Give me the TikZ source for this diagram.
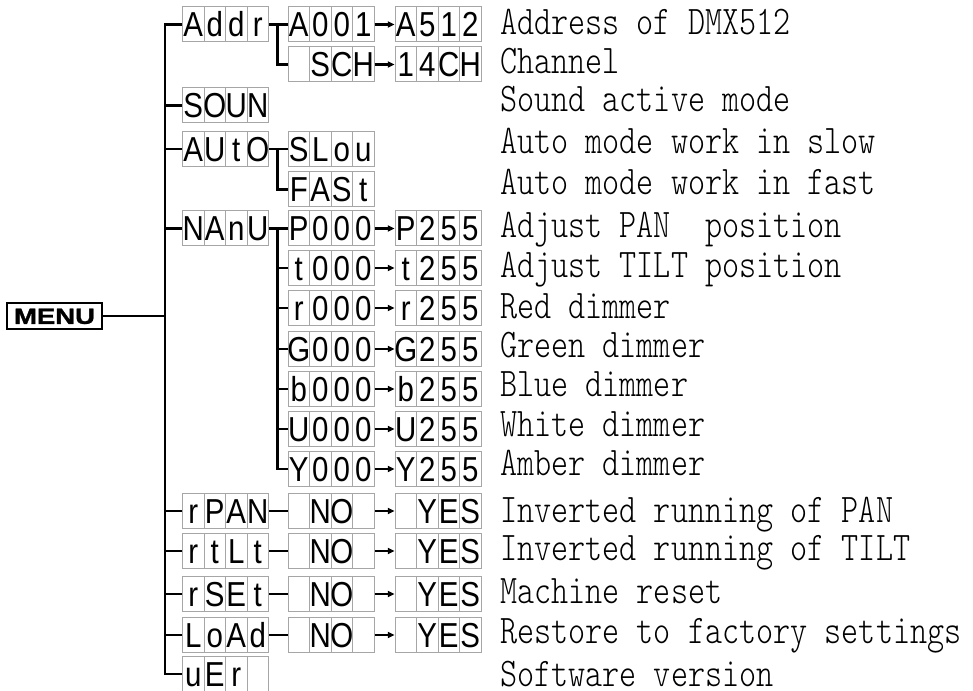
\documentclass[tikz,border=0pt]{standalone}
\usepackage{fontspec}
\setmainfont{Liberation Serif}
\newfontfamily\descfont[Extension=.otf, FakeStretch=0.8]{lmmonolt10-regular}
\newfontfamily\segfont[FakeStretch=0.85]{Liberation Sans}
\newfontfamily\menufont[FakeStretch=1.25, BoldFeatures={FakeBold=1.5}]{Liberation Sans}
\usetikzlibrary{calc,arrows.meta,positioning}
\newlength\cellw
\setlength\cellw{16.125pt}
\newcommand\seg[4]{\makebox[\cellw]{#1}\makebox[\cellw]{#2}\makebox[\cellw]{#3}\makebox[\cellw]{#4}}
\tikzset{
  disp/.style={draw=black!35, line width=0.75pt, inner sep=0pt, minimum height=26.25pt,
    text height=18.6pt, text depth=0pt, font=\segfont\fontsize{26}{26}\selectfont,
    path picture={\foreach \k in {1,2,3}{\draw[black!35, line width=0.75pt]
      ($(path picture bounding box.south west)!\k/4!(path picture bounding box.south east)$) --
      ($(path picture bounding box.north west)!\k/4!(path picture bounding box.north east)$);}}},
  menubox/.style={draw, line width=1.6pt, inner sep=0pt, minimum width=71.25pt, minimum height=19.5pt,
    text height=11.8pt, text depth=0pt, font=\menufont\bfseries\fontsize{16.5}{16.5}\selectfont},
  tree/.style={line width=2.1pt, black},
  link/.style={line width=1.6pt, -{Triangle[length=5pt,width=4.5pt]}},
  desc/.style={anchor=base west, inner sep=0pt, font=\descfont\fontsize{30.5}{34}\selectfont}
}
\begin{document}
\begin{tikzpicture}[x=0.75pt,y=-0.75pt]
  \useasboundingbox (0,0) rectangle (973,691);
  \node[menubox] (menu) at (54.5,316) {MENU};
  \coordinate (spine) at (165,0);
  % first level
  \node[disp] (addr) at (225.5,24.5) {\seg Addr};
  \node[disp] (soun) at (225.5,105.5) {\seg SOUN};
  \node[disp] (auto) at (225.5,149) {\seg AUtO};
  \node[disp] (manu) at (225.5,228.5) {\seg NAnU};
  \node[disp] (rpan) at (225.5,511) {\seg rPAN};
  \node[disp] (rtlt) at (225.5,551) {\seg rtLt};
  \node[disp] (rset) at (225.5,594) {\seg rSEt};
  \node[disp] (load) at (225.5,635) {\seg LoAd};
  \node[disp] (ver) at (225.5,674) {\seg uEr{}};
  % second level
  \node[disp] (a001) at (331,24.5) {\seg A001};
  \node[disp] (sch) at (331,64.5) {\seg{}SCH};
  \node[disp] (slow) at (331,149) {\seg SLou};
  \node[disp] (fast) at (331,189.5) {\seg FASt};
  \node[disp] (pan) at (331,228.5) {\seg P000};
  \node[disp] (tilt) at (331,268) {\seg t000};
  \node[disp] (red) at (331,308) {\seg r000};
  \node[disp] (green) at (331,349) {\seg G000};
  \node[disp] (blue) at (331,389) {\seg b000};
  \node[disp] (white) at (331,429) {\seg U000};
  \node[disp] (amber) at (331,469) {\seg Y000};
  \node[disp] (no1) at (331,511) {\seg{}NO{}};
  \node[disp] (no2) at (331,551) {\seg{}NO{}};
  \node[disp] (no3) at (331,594) {\seg{}NO{}};
  \node[disp] (no4) at (331,635) {\seg{}NO{}};
  % third level
  \node[disp, right=15pt of a001] (a512) {\seg A512};
  \node[disp, right=15pt of sch] (ch14) {\seg 14CH};
  \node[disp, right=15pt of pan] (pan2) {\seg P255};
  \node[disp, right=15pt of tilt] (tilt2) {\seg t255};
  \node[disp, right=15pt of red] (red2) {\seg r255};
  \node[disp, right=15pt of green] (green2) {\seg G255};
  \node[disp, right=15pt of blue] (blue2) {\seg b255};
  \node[disp, right=15pt of white] (white2) {\seg U255};
  \node[disp, right=15pt of amber] (amber2) {\seg Y255};
  \node[disp, right=15pt of no1] (yes1) {\seg{}YES};
  \node[disp, right=15pt of no2] (yes2) {\seg{}YES};
  \node[disp, right=15pt of no3] (yes3) {\seg{}YES};
  \node[disp, right=15pt of no4] (yes4) {\seg{}YES};
  % tree lines
  \draw[tree] (menu) -- (menu -| spine);
  \draw[tree] (addr.west) -- ++(-17,0) |- (ver.west);
  \foreach \n in {soun,auto,manu,rpan,rtlt,rset,load} \draw[tree] (\n.west) -- ++(-17,0);
  \draw[tree] (addr) -- (a001);
  \draw[tree] ($(a001.west)+(-10,0)$) |- (sch.west);
  \draw[tree] (auto) -- (slow);
  \draw[tree] ($(slow.west)+(-10,0)$) |- (fast.west);
  \draw[tree] (manu) -- (pan);
  \draw[tree] ($(pan.west)+(-10,0)$) |- (amber.west);
  \foreach \n in {tilt,red,green,blue,white} \draw[tree] (\n.west) -- ++(-10,0);
  \foreach \a/\b in {rpan/no1,rtlt/no2,rset/no3,load/no4} \draw[tree] (\a) -- (\b);
  \foreach \a/\b in {a001/a512,sch/ch14,pan/pan2,tilt/tilt2,red/red2,green/green2,blue/blue2,white/white2,amber/amber2,no1/yes1,no2/yes2,no3/yes3,no4/yes4}
    \draw[link] (\a) -- (\b);
  % descriptions
  \foreach \y/\t [count=\i] in {35/Address of DMX512, 73.3/Channel, 111.7/Sound active mode,
      153.5/Auto mode work in slow, 195/Auto mode work in fast, 238/Adjust PAN~ position,
      277/Adjust TILT position, 318/Red dimmer, 357/Green dimmer, 396.5/Blue dimmer,
      436/White dimmer, 475.5/Amber dimmer, 522.7/Inverted running of PAN,
      560.7/Inverted running of TILT, 603.3/Machine reset, 643.3/Restore to factory settings,
      686/Software version}
    \node[desc] (desc\i) at (500,\y) {\t};
\end{tikzpicture}
\end{document}
